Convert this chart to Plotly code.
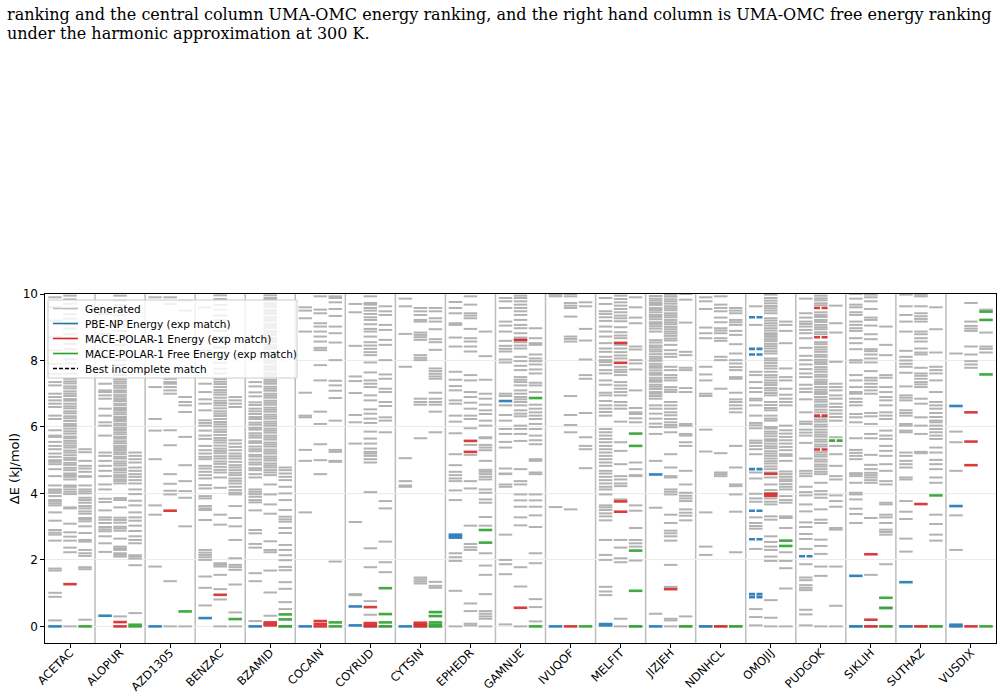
import plotly.graph_objects as go

# ---------------- data (kJ/mol) ----------------
systems = ["ACETAC", "ALOPUR", "AZD1305", "BENZAC", "BZAMID", "COCAIN", "COYRUD",
           "CYTSIN", "EPHEDR", "GAMNUE", "IVUQOF", "MELFIT", "JIZJEH", "NDNHCL",
           "OMOJIJ", "PUDGOK", "SIKLIH", "SUTHAZ", "VUSDIX"]

# generated structures, left column (PBE-NP energy ranking)
gen_left = [
    [0.18, 0.89, 1.01, 1.68, 1.74, 2.58, 2.76, 2.82, 2.9, 3.18, 3.43, 3.64, 3.7, 3.76, 3.8, 3.92, 4.02, 4.08, 4.12, 4.24, 4.52, 4.73, 4.88, 4.95, 5.0, 5.1, 5.2, 5.33, 5.43, 5.55, 5.7, 5.74, 5.9, 6.24, 6.34, 6.6, 6.7, 6.8, 6.9, 7.0, 7.25, 7.35, 7.6, 7.9, 8.3, 8.7, 9.2, 9.6, 9.9],
    [2.24, 2.5, 2.71, 2.86, 2.92, 2.99, 3.11, 3.21, 3.28, 3.49, 3.74, 3.84, 4.12, 4.27, 4.52, 4.68, 4.83, 4.98, 5.13, 5.23, 5.74, 6.04, 6.14, 6.34, 6.55, 6.85, 6.95, 7.05, 7.1, 7.3, 8.1, 8.8, 9.4],
    [1.8, 3.36, 3.64, 5.03, 5.89, 6.24, 7.2, 8.6, 9.9],
    [0.63, 1.16, 1.5, 2.0, 2.08, 2.15, 2.22, 2.3, 3.2, 3.5, 3.55, 3.62, 3.85, 3.92, 4.15, 4.25, 4.45, 4.55, 4.65, 4.75, 4.83, 5.03, 5.1, 5.2, 5.3, 5.43, 5.64, 5.74, 5.89, 6.04, 6.12, 6.2, 6.5, 6.7, 6.83, 7.05, 7.3, 8.3, 9.0, 9.6],
    [0.16, 1.36, 1.6, 2.37, 2.48, 2.8, 2.9, 3.49, 3.73, 3.8, 3.9, 3.98, 4.05, 4.12, 4.48, 4.58, 4.7, 4.76, 4.87, 4.93, 5.02, 5.11, 5.16, 5.27, 5.33, 5.41, 5.52, 5.57, 5.68, 5.74, 5.81, 5.92, 5.97, 6.07, 6.13, 6.24, 6.3, 6.39, 6.47, 6.55, 6.66, 6.74, 6.92, 7.04, 7.22, 7.35],
    [3.43, 4.98, 5.31, 6.29, 6.34, 7.03, 8.87, 9.27, 9.5, 9.6],
    [0.94, 0.97, 3.14, 5.5, 6.14, 6.36, 7.02, 7.38, 7.52, 8.44, 9.45, 9.7],
    [4.2, 4.24, 4.37, 5.06, 7.81, 8.8, 9.63, 9.86],
    [0.0, 1.07, 1.97, 2.08, 2.2, 3.8, 4.09, 4.37, 4.45, 4.55, 4.65, 4.85, 5.18, 5.81, 6.16, 6.34, 6.7, 6.8, 7.1, 7.23, 7.42, 7.66, 8.42, 8.69, 9.07, 9.12, 9.42, 9.58, 9.76],
    [0.06, 1.57, 1.87, 2.0, 2.76, 4.2, 4.27, 4.58, 4.6, 4.75, 5.38, 5.55, 5.79, 5.94, 6.19, 6.36, 6.65, 6.93, 7.0, 7.94, 8.03, 8.27, 8.35, 8.44, 8.59, 8.87, 9.05, 9.17, 9.58, 9.78, 9.88],
    [3.59, 9.93, 9.98],
    [0.94, 1.05, 1.19, 2.0, 2.15, 2.6, 3.19, 3.31, 3.4, 3.5, 3.58, 3.64, 3.97, 4.12, 4.2, 4.3, 4.4, 4.5, 4.6, 4.68, 4.83, 4.93, 5.03, 5.13, 5.23, 5.33, 5.43, 5.54, 5.64, 5.74, 5.84, 5.94, 6.34, 6.45, 6.55, 6.65, 6.78, 6.95, 7.03, 7.27, 7.4, 7.61, 7.71, 7.86, 7.95, 8.01, 8.11, 8.26, 8.36, 8.52, 8.72, 8.87, 9.02, 9.19, 9.3, 9.4, 9.48, 9.7, 9.88],
    [0.38, 3.57, 4.98, 5.79, 6.0, 6.1, 6.25, 6.4, 6.55, 6.65, 6.85, 6.93, 7.0, 7.05, 7.14, 7.21, 7.27, 7.36, 7.41, 7.48, 7.57, 7.62, 7.7, 7.78, 7.83, 7.9, 7.99, 8.05, 8.11, 8.19, 8.27, 8.33, 8.4, 8.45, 8.54, 8.61, 8.87, 8.96, 9.03, 9.1, 9.15, 9.24, 9.31, 9.37, 9.45, 9.52, 9.58, 9.67, 9.73, 9.8, 9.86, 9.94],
    [0.0, 2.15, 2.4, 3.43, 5.26, 5.92, 6.93, 7.0, 7.4, 7.58, 7.81, 8.67, 8.82, 8.99, 9.55, 9.78, 9.9],
    [0.03, 0.28, 0.52, 2.33, 2.94, 3.02, 3.11, 3.28, 3.75, 3.85, 3.99, 4.45, 4.63, 5.18, 5.33, 5.43, 5.52, 5.59, 5.96, 6.05, 6.12, 6.34, 6.65, 6.8, 6.85, 7.05, 7.17, 7.35, 7.56, 7.66, 9.07, 9.63],
    [0.03, 0.36, 0.5, 1.09, 1.16, 1.24, 1.39, 1.47, 1.87, 2.33, 2.63, 2.78, 2.99, 3.13, 3.46, 3.67, 3.94, 4.04, 4.2, 4.52, 4.6, 4.68, 5.05, 5.52, 5.74, 5.83, 5.92, 6.09, 6.16, 6.44, 6.83, 7.05, 7.15, 7.27, 7.5, 7.61, 7.74, 7.88, 8.01, 8.14, 8.38, 8.67, 8.82, 8.92, 9.02, 9.1, 9.17, 9.29, 9.42, 9.86],
    [0.0, 3.11, 3.38, 3.54, 3.82, 3.97, 4.02, 4.32, 4.52, 4.58, 4.61, 5.03, 5.13, 5.22, 5.31, 5.66, 6.14, 6.29, 6.39, 6.65, 6.75, 6.85, 7.0, 7.05, 7.2, 7.4, 7.56, 7.94, 8.01, 8.34, 8.52, 8.67, 8.89, 8.97, 9.07, 9.17, 9.37, 9.45, 9.6, 9.68, 9.86, 10.0],
    [0.0, 2.25, 2.64, 3.23, 3.45, 3.77, 4.42, 4.48, 4.78, 4.88, 4.98, 5.13, 5.23, 5.84, 5.89, 6.04, 6.09, 6.34, 6.42, 6.5, 6.8, 6.88, 6.95, 7.22, 7.63, 7.81, 7.9, 8.0, 8.11, 8.29, 8.87, 9.17, 9.37, 9.63, 9.98],
    [2.3, 3.34, 4.68, 5.54, 5.86, 8.21],
]

# generated structures, central column (energy ranking)
gen_centre = [
    [0.0, 2.23, 2.37, 2.58, 2.7, 2.83, 3.09, 3.55, 3.58, 3.98, 4.05, 4.12, 4.2, 4.24, 4.42, 4.5, 4.55, 4.6, 4.7, 4.77, 4.86, 4.92, 5.01, 5.07, 5.15, 5.23, 5.29, 5.38, 5.44, 5.51, 5.58, 5.66, 5.71, 5.8, 5.87, 5.95, 6.03, 6.09, 6.18, 6.26, 6.32, 6.41, 6.47, 6.56, 6.62, 6.7, 6.79, 6.84, 6.93, 7.0, 7.07, 7.16, 7.22, 7.31, 7.37, 7.45, 7.61, 7.74, 7.91, 8.04, 8.21, 8.34, 8.5, 8.66, 8.79, 8.96, 9.1, 9.26, 9.39, 9.55, 9.71, 9.84, 9.95],
    [0.3, 2.1, 2.15, 2.2, 2.3, 2.35, 2.4, 2.64, 2.88, 2.95, 3.0, 3.12, 3.2, 3.27, 3.58, 3.8, 3.86, 4.3, 4.37, 4.42, 4.49, 4.55, 4.63, 4.7, 4.75, 4.84, 4.9, 4.96, 5.05, 5.1, 5.18, 5.24, 5.31, 5.37, 5.43, 5.51, 5.57, 5.65, 5.7, 5.78, 5.84, 5.91, 5.97, 6.05, 6.1, 6.18, 6.24, 6.3, 6.38, 6.44, 6.51, 6.57, 6.65, 6.7, 6.78, 6.84, 6.91, 6.97, 7.05, 7.1, 7.18, 7.24, 7.31, 7.37, 7.44, 7.56, 7.69, 7.86, 8.0, 8.16, 8.29, 8.46, 8.6, 8.76, 8.89, 9.06, 9.2, 9.36, 9.49, 9.66, 9.8, 9.95],
    [0.0, 1.36, 3.97, 4.08, 4.29, 4.58, 5.45, 5.9, 7.0, 7.1, 7.2, 7.3, 7.35, 7.45, 9.7, 9.9],
    [0.0, 0.81, 1.12, 1.55, 1.8, 1.85, 1.9, 3.06, 3.36, 4.17, 4.48, 4.63, 4.71, 4.8, 4.89, 4.96, 5.05, 5.12, 5.21, 5.28, 5.35, 5.44, 5.53, 5.6, 5.67, 5.76, 5.85, 5.92, 6.01, 6.08, 6.15, 6.24, 6.33, 6.4, 6.47, 6.56, 6.65, 6.72, 6.79, 6.88, 6.97, 7.04, 7.11, 7.2, 7.29, 7.36, 7.44, 7.61, 7.75, 7.93, 8.07, 8.25, 8.39, 8.57, 8.71, 8.89, 9.03, 9.21, 9.35, 9.53, 9.67, 9.85, 9.96],
    [0.32, 1.02, 1.68, 2.23, 2.3, 2.56, 3.39, 3.67, 3.97, 4.27, 4.55, 4.63, 4.7, 4.78, 4.84, 4.9, 4.99, 5.05, 5.11, 5.2, 5.26, 5.32, 5.41, 5.47, 5.53, 5.62, 5.68, 5.74, 5.83, 5.89, 5.95, 6.04, 6.1, 6.16, 6.25, 6.31, 6.37, 6.46, 6.52, 6.58, 6.67, 6.73, 6.79, 6.88, 6.94, 7.0, 7.09, 7.15, 7.21, 7.3, 7.36, 7.42, 7.51, 7.57, 7.63, 7.72, 7.78, 7.84, 7.93, 7.99, 8.05, 8.14, 8.2, 8.26, 8.35, 8.41, 8.47, 8.56, 8.62, 8.68, 8.77, 8.83, 8.89, 8.98, 9.04, 9.1, 9.19, 9.25, 9.31, 9.4, 9.46, 9.52, 9.61, 9.67, 9.73, 9.82, 9.88, 9.96],
    [4.58, 5.0, 5.48, 6.09, 6.46, 7.4, 7.86, 8.31, 8.38, 8.57, 8.72, 8.87, 9.02, 9.12, 9.42, 9.53, 9.93],
    [0.0, 0.35, 0.76, 1.78, 2.35, 4.04, 4.93, 5.03, 5.13, 5.2, 5.25, 5.35, 5.5, 5.65, 5.86, 6.12, 6.25, 6.4, 6.53, 6.8, 6.95, 7.2, 7.3, 7.4, 7.64, 7.94, 8.16, 8.25, 8.35, 8.45, 8.55, 8.72, 8.87, 8.95, 9.09, 9.22, 9.3, 9.4, 9.5, 9.58, 9.68, 9.73, 9.93],
    [0.0, 0.05, 1.29, 1.35, 1.41, 1.47, 5.66, 6.67, 6.75, 6.85, 8.01, 8.08, 8.16, 8.62, 8.7, 8.77, 8.84, 9.17, 9.22, 9.37, 9.48, 9.58],
    [0.03, 0.08, 0.46, 0.69, 2.3, 2.38, 2.48, 3.03, 4.15, 4.37, 5.16, 5.46, 5.96, 6.24, 6.34, 6.55, 6.73, 6.9, 7.05, 7.4, 7.56, 8.27, 8.42, 8.57, 8.67, 8.95, 9.27, 9.35, 9.42, 9.68, 9.93],
    [0.0, 1.2, 1.78, 3.04, 3.28, 3.6, 3.79, 3.97, 4.27, 4.37, 4.73, 5.58, 5.79, 5.94, 6.04, 6.32, 6.4, 6.5, 6.65, 6.75, 6.83, 6.9, 7.0, 7.1, 7.25, 7.35, 7.42, 7.5, 7.71, 7.84, 7.98, 8.11, 8.36, 8.45, 8.55, 8.62, 8.69, 8.82, 8.97, 9.07, 9.22, 9.37, 9.48, 9.58, 9.68, 9.78, 9.88, 9.95],
    [3.52, 5.84, 6.06, 6.36, 6.93, 8.57, 8.65, 8.72, 9.32, 9.58, 9.65, 9.73, 9.93, 10.0],
    [0.0, 0.23, 1.93, 2.05, 2.37, 2.6, 3.82, 4.22, 4.3, 4.42, 4.52, 4.88, 5.28, 5.54, 6.16, 6.55, 6.65, 6.75, 6.95, 7.05, 7.15, 7.25, 7.35, 7.56, 7.65, 7.72, 7.81, 8.06, 8.15, 8.25, 8.36, 8.47, 8.67, 8.75, 8.85, 9.0, 9.18, 9.27, 9.35, 9.45, 9.55, 9.65, 9.75, 9.85, 9.95],
    [0.0, 0.18, 0.23, 1.19, 1.85, 2.58, 2.71, 2.8, 2.88, 3.11, 3.36, 3.97, 4.05, 4.12, 4.48, 4.52, 4.78, 5.18, 5.84, 5.99, 6.06, 6.14, 6.24, 6.35, 6.44, 6.55, 6.65, 6.75, 7.05, 7.12, 7.2, 7.4, 7.48, 7.56, 7.71, 7.81, 8.11, 8.2, 8.31, 8.47, 8.6, 8.66, 8.74, 8.81, 8.87, 8.94, 9.01, 9.09, 9.15, 9.22, 9.3, 9.36, 9.42, 9.51, 9.57, 9.63, 9.71, 9.78, 9.84, 9.92, 9.98],
    [0.0, 4.52, 4.58, 4.63, 5.21, 7.15, 8.01, 8.11, 8.59, 8.67, 8.82, 8.9, 8.97, 9.15, 9.29, 9.48, 9.58, 9.68, 9.93],
    [0.0, 0.26, 0.79, 1.97, 2.1, 2.3, 2.4, 2.54, 2.71, 3.21, 3.31, 3.67, 3.75, 3.85, 4.0, 4.1, 4.27, 4.48, 4.63, 4.73, 4.81, 4.9, 4.97, 5.05, 5.13, 5.2, 5.27, 5.36, 5.42, 5.5, 5.58, 5.63, 5.72, 5.8, 5.86, 5.95, 6.0, 6.19, 6.25, 6.34, 6.5, 6.57, 6.66, 6.75, 6.95, 7.02, 7.1, 7.17, 7.26, 7.33, 7.4, 7.49, 7.56, 7.66, 7.76, 7.84, 7.92, 8.0, 8.06, 8.21, 8.28, 8.36, 8.43, 8.5, 8.58, 8.64, 8.71, 8.77, 8.82, 8.9, 8.97, 9.05, 9.12, 9.2, 9.27, 9.42, 9.5, 9.57, 9.64, 9.72, 9.8, 9.88, 9.98],
    [0.0, 1.52, 1.8, 2.18, 2.42, 2.61, 3.11, 3.21, 3.52, 3.87, 3.97, 4.07, 4.32, 4.58, 4.65, 4.73, 4.81, 4.87, 4.96, 5.02, 5.11, 5.17, 5.24, 5.41, 5.47, 5.56, 5.62, 5.71, 5.77, 5.84, 5.92, 6.01, 6.07, 6.16, 6.22, 6.29, 6.44, 6.52, 6.61, 6.67, 6.76, 6.82, 6.9, 6.99, 7.05, 7.12, 7.2, 7.29, 7.35, 7.42, 7.51, 7.57, 7.66, 7.73, 7.8, 7.89, 7.95, 8.02, 8.11, 8.17, 8.26, 8.33, 8.4, 8.49, 8.55, 8.79, 8.85, 8.94, 9.0, 9.07, 9.16, 9.22, 9.31, 9.37, 9.45, 9.66, 9.72, 9.81, 9.87, 9.95],
    [0.0, 1.55, 3.26, 4.32, 4.4, 4.48, 4.55, 4.62, 4.73, 4.86, 5.16, 5.66, 5.79, 6.09, 6.32, 6.42, 7.0, 7.1, 7.2, 7.3, 7.4, 7.48, 7.68, 7.94, 8.06, 8.18, 8.28, 8.34, 8.64, 8.79, 9.05, 9.22, 9.29, 9.55, 9.78, 9.9, 9.98],
    [0.0, 5.21, 5.25, 5.79, 6.04, 6.29, 6.7, 6.85, 7.2, 7.28, 7.35, 7.45, 7.54, 7.61, 7.78, 8.18, 8.24, 8.36, 8.57, 8.67, 8.79, 8.87, 9.17, 9.25, 9.33, 9.42, 9.63, 9.93, 9.98],
    [7.78, 7.88, 7.98, 8.18, 8.42, 8.89, 8.96, 9.04, 9.17, 9.73],
]

# generated structures, right column (free energy ranking, 300 K)
gen_right = [
    [0.2, 1.72, 1.78, 2.12, 2.2, 2.3, 2.55, 2.6, 2.81, 3.01, 3.16, 3.22, 3.26, 3.39, 3.46, 3.55, 3.62, 3.72, 3.8, 3.87, 4.0, 4.06, 4.12, 4.24, 4.5, 4.52, 4.65, 4.75, 4.83, 4.98, 5.24, 5.33],
    [0.4, 1.84, 2.04, 2.1, 2.14, 2.5, 2.6, 2.71, 2.87, 3.03, 3.18, 3.28, 3.43, 3.64, 3.78, 3.98, 4.12, 4.3, 4.4, 4.5, 4.58, 4.68, 4.78, 4.93, 5.03, 5.13, 5.23],
    [0.0, 3.01, 3.87, 4.07, 4.37, 4.85, 5.7, 6.45, 6.65, 6.75, 6.9, 9.5, 9.8],
    [0.0, 0.42, 1.26, 1.7, 1.78, 1.85, 2.05, 2.6, 3.01, 3.26, 3.62, 3.97, 4.02, 4.1, 4.2, 4.3, 4.38, 4.45, 4.55, 4.62, 4.7, 4.78, 4.85, 4.95, 5.05, 5.12, 5.2, 5.3, 5.4, 5.5, 5.6, 6.6, 6.7, 6.8, 6.9],
    [0.0, 0.52, 0.73, 1.13, 1.33, 1.69, 1.79, 1.99, 2.14, 2.3, 2.45, 2.81, 2.96, 3.15, 3.22, 3.3, 3.5, 3.8, 4.0, 4.2, 4.4, 4.5, 4.6, 4.7, 4.78],
    [1.95, 4.95, 4.98, 5.25, 5.31, 6.19, 6.87, 7.09, 7.25, 7.39, 8.01, 8.54, 8.82, 9.02, 9.34, 9.55, 9.75, 9.88, 9.93],
    [0.0, 1.63, 1.93, 2.55, 3.55, 3.77, 5.84, 6.19, 6.29, 6.63, 6.75, 7.05, 7.15, 7.45, 7.58, 8.01, 8.47, 8.62, 8.92, 9.07, 9.37, 9.48, 9.63],
    [0.0, 1.16, 1.22, 1.34, 5.84, 6.46, 6.67, 6.75, 6.85, 7.03, 7.45, 7.52, 7.6, 7.68, 7.76, 8.32, 8.55, 8.64, 8.94, 9.17, 9.27, 9.48, 9.58],
    [0.0, 0.23, 0.3, 0.38, 0.46, 0.97, 1.55, 1.83, 2.2, 3.03, 3.29, 3.72, 3.82, 4.02, 4.12, 4.42, 4.5, 4.58, 4.65, 4.71, 4.98, 5.3, 5.38, 5.46, 5.66, 5.69, 6.04, 6.19, 6.39, 6.5, 6.67, 6.85, 7.0, 7.42, 8.13, 8.87],
    [0.15, 0.58, 0.82, 1.9, 2.2, 2.99, 3.34, 3.6, 3.79, 3.97, 4.58, 4.63, 4.98, 5.03, 5.48, 5.6, 5.74, 5.94, 6.09, 6.24, 6.34, 6.44, 6.55, 6.67, 7.05, 7.25, 7.33, 7.61, 7.73, 7.88, 7.98, 8.06, 8.18, 8.47, 8.52, 8.67, 8.97],
    [4.76, 5.33, 5.43, 5.69, 6.42, 7.45, 7.56, 8.03, 8.6, 8.95, 9.63, 9.75],
    [0.0, 1.98, 2.4, 2.5, 2.6, 2.96, 3.48, 3.64, 4.52, 4.55, 4.73, 4.93, 6.14, 6.26, 6.39, 6.44, 6.57, 7.1, 7.73, 7.91, 8.01, 8.33, 8.42, 9.12, 9.29, 9.6, 9.9],
    [0.0, 0.3, 3.19, 3.33, 3.42, 3.52, 3.77, 3.85, 3.93, 4.02, 4.27, 4.68, 5.43, 5.54, 5.74, 5.79, 6.04, 6.09, 7.05, 7.17, 7.71, 7.78, 8.16, 8.26, 9.14, 9.83, 10.0],
    [0.0, 2.23, 3.45, 3.97, 4.22, 4.27, 4.78, 5.43, 6.44, 6.55, 6.65, 6.75, 6.83, 7.03, 7.45, 7.5, 7.71, 7.8, 7.91, 8.01, 8.21, 8.49, 8.77, 8.89, 9.07, 9.15, 9.22, 9.42, 9.5, 9.58],
    [0.0, 1.14, 1.75, 1.97, 2.23, 2.96, 3.26, 3.31, 3.72, 3.8, 3.92, 4.12, 4.2, 4.28, 4.37, 4.42, 4.5, 4.58, 4.66, 4.98, 5.13, 5.18, 5.3, 5.4, 5.5, 5.6, 5.7, 5.8, 5.9, 6.04, 6.65, 6.75, 6.85, 6.97, 7.15, 7.4, 7.5, 7.76, 8.52, 8.89, 9.07, 9.17],
    [0.0, 0.62, 1.8, 2.91, 2.96, 3.6, 3.77, 3.94, 4.42, 4.52, 4.83, 5.18, 5.43, 5.69, 6.19, 6.3, 6.4, 6.5, 6.6, 6.7, 6.85, 6.95, 7.1, 7.2, 7.3, 7.96, 8.84, 9.12, 9.65],
    [0.0, 0.57, 1.87, 2.76, 2.84, 2.91, 3.11, 3.28, 3.36, 3.67, 3.72, 4.27, 4.37, 4.68, 4.88, 5.13, 5.28, 5.43, 5.64, 5.74, 5.89, 6.24, 6.34, 6.44, 6.65, 6.8, 6.9, 7.05, 7.2, 7.48, 7.56, 8.16, 8.47, 9.02],
    [0.0, 2.58, 2.76, 3.08, 3.36, 4.32, 4.48, 4.73, 4.88, 5.01, 5.23, 5.38, 5.64, 5.74, 5.84, 5.94, 6.04, 6.14, 6.19, 6.3, 6.42, 6.55, 6.65, 6.75, 7.05, 7.4, 7.61, 7.71, 7.81, 8.24, 8.94, 9.6],
    [8.24, 8.35, 8.42, 8.84, 9.53],
]

# experimental matches (solid coloured lines)
pbe_match = [[0.0], [0.32], [0.0], [0.25], [0.0], [0.0], [0.03, 0.6], [0.0], [2.67, 2.72, 2.76],
             [6.78], [0.0], [0.03, 0.07], [0.0, 4.57], [0.0], [], [], [0.0, 1.52], [0.0, 1.33],
             [0.0, 0.05, 3.62, 6.63]]
mace_e_match = [[1.27], [0.0, 0.13], [3.48], [0.95], [0.03, 0.08, 0.12], [0.0, 0.07, 0.16],
                [0.0, 0.05, 0.1, 0.58], [0.0, 0.04, 0.08, 0.11], [5.25, 5.58], [0.56, 8.62], [0.0],
                [3.45, 3.76, 7.93, 8.53], [1.12], [0.0], [3.93, 3.99, 4.59], [], [0.0, 0.2, 2.17],
                [0.0, 3.68], [0.0, 4.85, 5.56, 6.44]]
mace_g_match = [[0.0], [0.0, 0.05], [0.45], [0.22], [0.0, 0.21, 0.36], [0.0, 0.12],
                [0.0, 0.12, 0.37, 1.15], [0.0, 0.05, 0.12, 0.31, 0.43], [2.52, 2.9], [0.0, 6.87],
                [0.0], [0.0, 1.07, 2.28, 5.43, 5.8], [0.0], [0.0], [2.42, 2.58], [], [0.0, 0.55, 0.86],
                [0.0, 3.94], [0.0, 7.58, 9.22, 9.47]]

# best incomplete matches (dashed coloured lines)
pbe_incomplete = [[], [], [], [], [], [], [], [], [], [], [], [], [], [],
                  [0.88, 0.97, 2.62, 3.48, 4.73, 8.18, 8.35, 9.3], [2.11], [], [], []]
mace_e_incomplete = [[], [], [], [], [], [], [], [], [], [], [], [], [], [], [],
                     [5.32, 6.34, 8.7, 9.58], [], [], []]
mace_g_incomplete = [[], [], [], [], [], [], [], [], [], [], [], [], [], [], [],
                     [5.59], [], [], []]

legend_labels = ["Generated", "PBE-NP Energy (exp match)", "MACE-POLAR-1 Energy (exp match)",
                 "MACE-POLAR-1 Free Energy (exp match)", "Best incomplete match"]

caption_lines = [
    "ranking and the central column UMA-OMC energy ranking, and the right hand column is UMA-OMC free energy ranking",
    "under the harmonic approximation at 300 K.",
]

# ---------------- styling ----------------
W, H = 1005, 697
ML, MR, MT, MB = 45, 9, 294, 54
PW, PH = W - ML - MR, H - MT - MB

OFFSETS = {"left": -0.3, "centre": 0.0, "right": 0.3}
HALF = 0.135
GRAY = "rgb(178,178,178)"
BLUE = "#1f77b4"
RED = "#d62728"
GREEN = "#2ca02c"
DASH = "6px,1.5px"


def px_x(px):
    return (px - ML) / PW


def px_y(py):
    return (H - MB - py) / PH


def segments(lists, offset, color, width, dash="solid", opacity=1.0):
    xs, ys = [], []
    for i, vals in enumerate(lists):
        for v in vals:
            xs += [i + offset - HALF, i + offset + HALF, None]
            ys += [v, v, None]
    return go.Scatter(x=xs, y=ys, mode="lines", showlegend=False, hoverinfo="skip",
                      opacity=opacity, line=dict(color=color, width=width, dash=dash))


fig = go.Figure()

for lists, key in [(gen_left, "left"), (gen_centre, "centre"), (gen_right, "right")]:
    fig.add_trace(segments(lists, OFFSETS[key], GRAY, 2))

fig.add_trace(segments(pbe_match, OFFSETS["left"], BLUE, 2.6, opacity=0.9))
fig.add_trace(segments(mace_e_match, OFFSETS["centre"], RED, 2.6, opacity=0.9))
fig.add_trace(segments(mace_g_match, OFFSETS["right"], GREEN, 2.6, opacity=0.9))
fig.add_trace(segments(pbe_incomplete, OFFSETS["left"], BLUE, 2.6, dash=DASH, opacity=0.9))
fig.add_trace(segments(mace_e_incomplete, OFFSETS["centre"], RED, 2.6, dash=DASH, opacity=0.9))
fig.add_trace(segments(mace_g_incomplete, OFFSETS["right"], GREEN, 2.6, dash=DASH, opacity=0.9))

# group separators
for i in range(len(systems) - 1):
    fig.add_shape(type="line", xref="x", yref="paper", x0=i + 0.5, x1=i + 0.5, y0=0, y1=1,
                  line=dict(color="#bdbdbd", width=1.5), layer="below")

# legend box drawn in the upper-left corner of the axes (matplotlib style)
fig.add_shape(type="rect", xref="paper", yref="paper",
              x0=px_x(48), x1=px_x(297), y0=px_y(378), y1=px_y(300),
              fillcolor="rgba(255,255,255,0.8)", line=dict(color="#cccccc", width=1),
              layer="above")
legend_styles = [("rgb(190,190,190)", "solid"), (BLUE, "solid"), (RED, "solid"),
                 (GREEN, "solid"), ("black", "4px,2px")]
for k, (label, (col, dsh)) in enumerate(zip(legend_labels, legend_styles)):
    yc = 308.5 + k * 15.0
    fig.add_shape(type="line", xref="paper", yref="paper",
                  x0=px_x(53), x1=px_x(78), y0=px_y(yc), y1=px_y(yc),
                  line=dict(color=col, width=1.6, dash=dsh), layer="above")
    fig.add_annotation(text=label, xref="paper", yref="paper", x=px_x(83), y=px_y(yc),
                       xanchor="left", yanchor="middle", showarrow=False,
                       font=dict(family="DejaVu Sans", size=10.5, color="black"))

# caption text (part of the page image)
for k, line in enumerate(caption_lines):
    fig.add_annotation(text=line, xref="paper", yref="paper", x=px_x(5), y=px_y(14 + k * 19),
                       xanchor="left", yanchor="middle", showarrow=False,
                       font=dict(family="DejaVu Serif", size=16, color="black"))

fig.update_layout(
    width=W, height=H,
    margin=dict(l=ML, r=MR, t=MT, b=MB, autoexpand=False),
    paper_bgcolor="white", plot_bgcolor="white",
    font=dict(family="DejaVu Sans", size=12, color="black"),
    showlegend=False,
)
fig.update_xaxes(range=[-0.5, len(systems) - 0.5], tickmode="array",
                 tickvals=list(range(len(systems))), ticktext=systems, tickangle=-45,
                 ticks="outside", ticklen=3.5, tickcolor="black", showline=True, mirror=True,
                 linecolor="black", linewidth=1.2, showgrid=False, zeroline=False,
                 tickfont=dict(size=11.5), automargin=False, ticklabelstandoff=-6)
fig.update_yaxes(range=[-0.5, 10], tickmode="array", tickvals=[0, 2, 4, 6, 8, 10],
                 ticks="outside", ticklen=3.5, tickcolor="black", showline=True, mirror=True,
                 linecolor="black", linewidth=1.2, showgrid=True, gridcolor="#ebebeb",
                 gridwidth=1, zeroline=False, tickfont=dict(size=12), automargin=False,
                 title=dict(text="ΔE (kJ/mol)", font=dict(size=13), standoff=0))

fig.write_html("out.html")
